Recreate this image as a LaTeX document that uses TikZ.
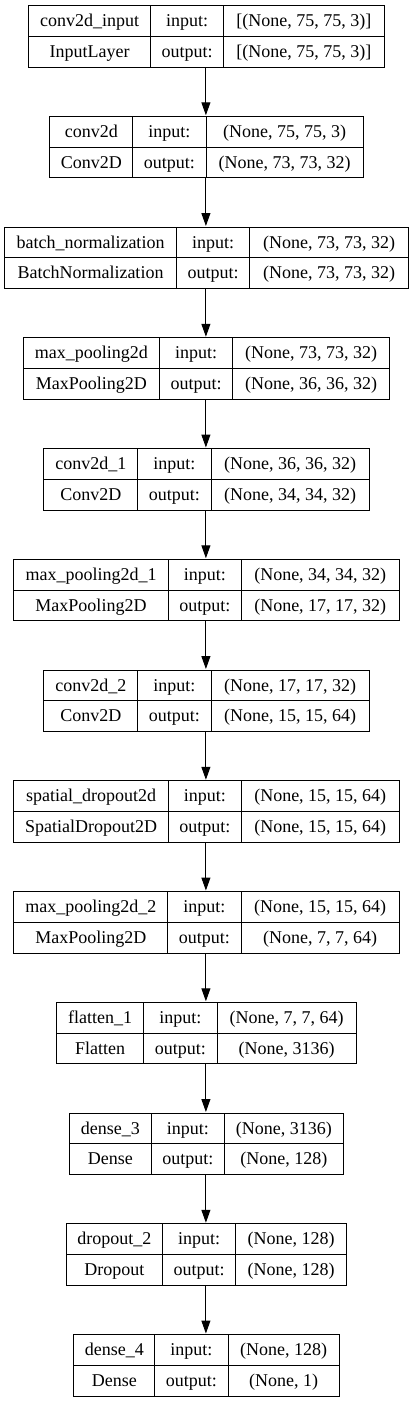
\documentclass[tikz,border=0pt]{standalone}
\usepackage{fontspec}
\setmainfont{Liberation Serif}
\usetikzlibrary{arrows.meta}
\tikzset{
	cell/.style={draw, line width=1pt, inner sep=0pt, anchor=north west,
		minimum height=30.8pt, text height=12pt, text depth=0.6pt,
		font=\fontsize{18}{20}\selectfont},
	layer/.style={inner sep=0pt, minimum height=61.6pt}
}
\newcommand{\layerbox}[7]{%
	\pgfmathsetmacro{\yt}{-5-110.75*(#1-1)}%
	\pgfmathsetmacro{\ym}{\yt-30.8}%
	\pgfmathsetmacro{\xr}{411.8-#2}%
	\pgfmathsetmacro{\xc}{#3+73.3}%
	\pgfmathsetmacro{\wa}{#3-#2}%
	\pgfmathsetmacro{\wc}{\xr-\xc}%
	\pgfmathsetmacro{\wb}{411.8-2*#2}%
	\node [layer, minimum width=\wb pt] (#1) at (205.9,\ym) {};
	\node [cell, minimum width=\wa pt] (#1n) at (#2,\yt) {#4};
	\node [cell, minimum width=\wa pt] (#1k) at (#2,\ym) {#5};
	\node [cell, minimum width=73.3pt] (#1i) at (#3,\yt) {input:};
	\node [cell, minimum width=73.3pt] (#1o) at (#3,\ym) {output:};
	\node [cell, minimum width=\wc pt] (#1s) at (\xc,\yt) {#6};
	\node [cell, minimum width=\wc pt] (#1t) at (\xc,\ym) {#7};
}

\begin{document}
\begin{tikzpicture}[x=1pt, y=1pt, line width=1pt,
	>={Triangle[length=13pt, width=9pt]}]
	\useasboundingbox (0,0) rectangle (412,-1401);
	\layerbox{1}{28.3}{150}{conv2d\_input}{InputLayer}
		{[(None, 75, 75, 3)]}{[(None, 75, 75, 3)]}
	\layerbox{2}{49.3}{132.3}{conv2d}{Conv2D}
		{(None, 75, 75, 3)}{(None, 73, 73, 32)}
	\layerbox{3}{4}{176}{batch\_normalization}{BatchNormalization}
		{(None, 73, 73, 32)}{(None, 73, 73, 32)}
	\layerbox{4}{22.7}{159}{max\_pooling2d}{MaxPooling2D}
		{(None, 73, 73, 32)}{(None, 36, 36, 32)}
	\layerbox{5}{43.3}{137.3}{conv2d\_1}{Conv2D}
		{(None, 36, 36, 32)}{(None, 34, 34, 32)}
	\layerbox{6}{13.3}{167.7}{max\_pooling2d\_1}{MaxPooling2D}
		{(None, 34, 34, 32)}{(None, 17, 17, 32)}
	\layerbox{7}{43.3}{137.3}{conv2d\_2}{Conv2D}
		{(None, 17, 17, 32)}{(None, 15, 15, 64)}
	\layerbox{8}{13.3}{167.7}{spatial\_dropout2d}{SpatialDropout2D}
		{(None, 15, 15, 64)}{(None, 15, 15, 64)}
	\layerbox{9}{13.3}{167.3}{max\_pooling2d\_2}{MaxPooling2D}
		{(None, 15, 15, 64)}{(None, 7, 7, 64)}
	\layerbox{10}{56}{143.3}{flatten\_1}{Flatten}
		{(None, 7, 7, 64)}{(None, 3136)}
	\layerbox{11}{69}{150.7}{dense\_3}{Dense}
		{(None, 3136)}{(None, 128)}
	\layerbox{12}{65.7}{162}{dropout\_2}{Dropout}
		{(None, 128)}{(None, 128)}
	\layerbox{13}{73.3}{154.3}{dense\_4}{Dense}
		{(None, 128)}{(None, 1)}
	\draw [ -> ] (1) to (2);
	\draw [ -> ] (2) to (3);
	\draw [ -> ] (3) to (4);
	\draw [ -> ] (4) to (5);
	\draw [ -> ] (5) to (6);
	\draw [ -> ] (6) to (7);
	\draw [ -> ] (7) to (8);
	\draw [ -> ] (8) to (9);
	\draw [ -> ] (9) to (10);
	\draw [ -> ] (10) to (11);
	\draw [ -> ] (11) to (12);
	\draw [ -> ] (12) to (13);
\end{tikzpicture}
\end{document}
